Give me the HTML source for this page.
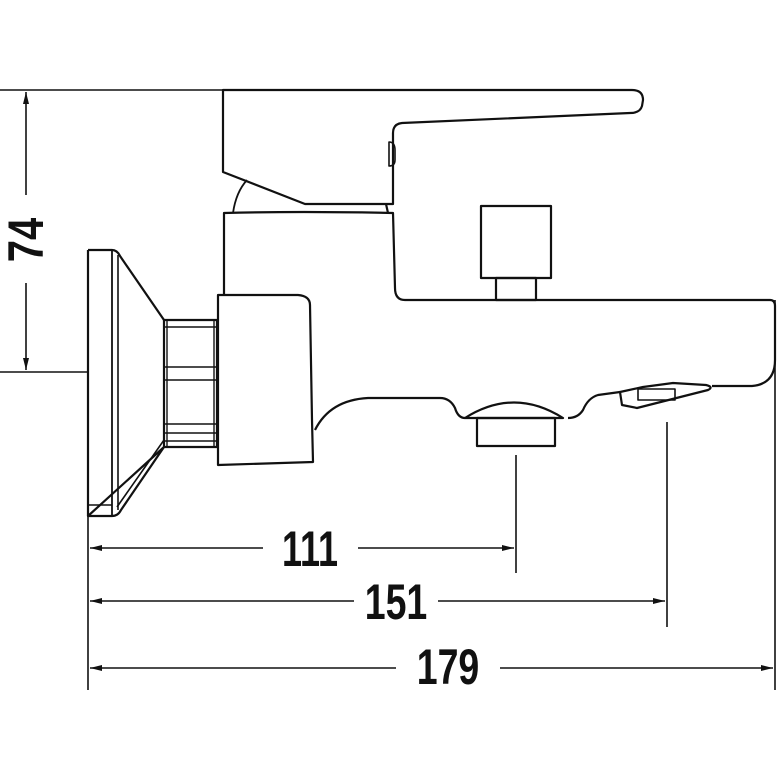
<!DOCTYPE html>
<html><head><style>
html,body{margin:0;padding:0;background:#fff;}
svg{display:block;}
text{font-family:"Liberation Sans",sans-serif;font-size:50px;fill:#111;font-weight:bold;}
</style></head><body>
<svg width="777" height="777" viewBox="0 0 777 777" xmlns="http://www.w3.org/2000/svg">
<defs>
<marker id="a" viewBox="0 0 12 6" refX="12" refY="3" markerWidth="12" markerHeight="6" orient="auto-start-reverse" markerUnits="userSpaceOnUse">
<path d="M0,0 L12,3 L0,6 Z" fill="#111"/></marker>
</defs>
<g fill="none" stroke="#111" stroke-width="2.2" stroke-linejoin="round">
<line x1="0" y1="90" x2="225" y2="90" stroke-width="1.6"/>
<line x1="0" y1="372" x2="88" y2="372" stroke-width="1.6"/>
<line x1="88" y1="372" x2="88" y2="690" stroke-width="1.6"/>
<line x1="516" y1="455" x2="516" y2="573" stroke-width="1.6"/>
<line x1="667" y1="422" x2="667" y2="627" stroke-width="1.6"/>
<line x1="775" y1="300" x2="775" y2="690" stroke-width="1.6"/>
<line x1="26" y1="92" x2="26" y2="195" stroke-width="1.6" marker-start="url(#a)"/>
<line x1="26" y1="283" x2="26" y2="370" stroke-width="1.6" marker-end="url(#a)"/>
<line x1="90" y1="548" x2="263" y2="548" stroke-width="1.6" marker-start="url(#a)"/>
<line x1="358" y1="548" x2="514" y2="548" stroke-width="1.6" marker-end="url(#a)"/>
<line x1="90" y1="601" x2="354" y2="601" stroke-width="1.6" marker-start="url(#a)"/>
<line x1="438" y1="601" x2="665" y2="601" stroke-width="1.6" marker-end="url(#a)"/>
<line x1="90" y1="668" x2="396" y2="668" stroke-width="1.6" marker-start="url(#a)"/>
<line x1="500" y1="668" x2="773" y2="668" stroke-width="1.6" marker-end="url(#a)"/>

<path d="M223,90 L632,90 Q643,90 643,100 L642,106 Q640,113 630,113 L402,123 Q393,124 393,133 L393,204 L305,204 L223,172 Z"/>
<path d="M389,142 Q395,142 395,150 L395,160 Q395,166 389,166 Z" stroke-width="1.6"/>
<path d="M233,213 Q236,192 247,180" stroke-width="1.8"/>
<line x1="386" y1="204" x2="388" y2="213"/>
<path d="M224,295 L224,213 Q300,211 393,213 L395,288 Q395,300 405,300 L770,300 Q775,300 775,306 L775,360 Q775,384 752,386 L712,386"/>
<path d="M620,392 L622,405 L637,408 L708,390 Q714,387 706,385 L673,383 L643,387 Z"/>
<rect x="638" y="389" width="37" height="11" stroke-width="1.6"/>
<path d="M620,392 L598,395 Q588,398 583,410 Q578,418 568,418"/>
<path d="M465,418 Q514,387 563,418 Z"/>
<rect x="477" y="418" width="78" height="28"/>
<path d="M465,418 Q458,418 455,408 Q450,398 440,398 L368,398 Q330,400 315,430"/>
<rect x="481" y="206" width="70" height="72"/>
<rect x="496" y="278" width="40" height="22"/>
<path d="M218,295 L298,295 Q310,296 310,305 L312,420 L313,462 L218,465 Z"/>
<rect x="164" y="320" width="53" height="127"/>
<line x1="165" y1="327" x2="216" y2="327" stroke-width="1.6"/>
<line x1="165" y1="367" x2="216" y2="367" stroke-width="1.6"/>
<line x1="165" y1="380" x2="216" y2="380" stroke-width="1.6"/>
<line x1="165" y1="424" x2="216" y2="424" stroke-width="1.6"/>
<line x1="165" y1="433" x2="216" y2="433" stroke-width="1.6"/>
<line x1="165" y1="441" x2="216" y2="441" stroke-width="1.6"/>
<line x1="214" y1="320" x2="214" y2="447" stroke-width="1.4"/>
<line x1="167" y1="320" x2="167" y2="447" stroke-width="1.4"/>
<path d="M88,250 L112,250 Q117,250 120,256 L164,320"/>
<path d="M164,447 L121,510 Q118,516 112,516 L88,516 Z"/>
<line x1="88" y1="250" x2="88" y2="516"/>
<line x1="112" y1="250" x2="112" y2="516" stroke-width="1.8"/>
<line x1="118" y1="255" x2="118" y2="510" stroke-width="1.6"/>
<path d="M164,440 L117,507" stroke-width="1.6"/>
<line x1="88" y1="505" x2="112" y2="505" stroke-width="1.6"/>
</g>
<text transform="translate(43,240) rotate(-90) scale(0.8,1)" text-anchor="middle">74</text>
<text transform="translate(310,566) scale(0.72,1)" text-anchor="middle">111</text>
<text transform="translate(396,619) scale(0.75,1)" text-anchor="middle">151</text>
<text transform="translate(448,684) scale(0.75,1)" text-anchor="middle">179</text>
</svg>
</body></html>
